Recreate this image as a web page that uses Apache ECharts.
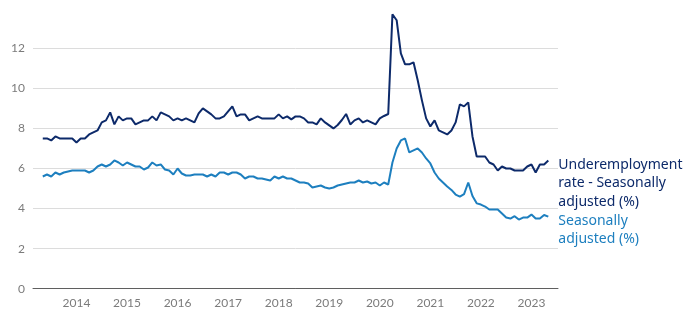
<!DOCTYPE html>
<html>
<head>
<meta charset="utf-8">
<script src="https://cdn.jsdelivr.net/npm/echarts@6/dist/echarts.min.js"></script>
<style>
html,body{margin:0;padding:0;background:#fff;}
#chart{width:700px;height:324px;}
</style>
</head>
<body>
<div id="chart"></div>
<script>
// Monthly series, May 2013 .. May 2023
const startYear = 2013;
const startMonth = 5; // May
const underemployment = [
  7.5,7.5,7.4,7.6,7.5,7.5,7.5,7.5,7.3,7.5,7.5,7.7,7.8,7.9,8.3,8.4,8.8,8.2,8.6,8.4,8.5,
  8.5,8.2,8.3,8.4,8.4,8.6,8.4,8.8,8.7,8.6,8.4,8.5,8.4,8.5,8.4,8.3,8.75,9.0,8.85,8.7,
  8.5,8.5,8.6,8.85,9.1,8.6,8.7,8.7,8.4,8.5,8.6,8.5,8.5,8.5,8.5,8.7,8.5,8.6,8.45,8.6,
  8.6,8.5,8.3,8.3,8.2,8.5,8.3,8.15,8.0,8.17,8.42,8.72,8.2,8.4,8.5,8.3,8.4,8.3,8.2,8.5,8.62,8.72,
  13.7,13.4,11.75,11.2,11.2,11.3,10.4,9.4,8.5,8.1,8.4,7.9,7.8,7.7,7.9,8.3,9.2,9.1,9.3,7.6,
  6.6,6.6,6.6,6.3,6.2,5.9,6.1,6.0,6.0,5.9,5.9,5.9,6.1,6.2,5.8,6.2,6.2,6.4
];
const unemployment = [
  5.6,5.7,5.6,5.8,5.7,5.8,5.85,5.9,5.9,5.9,5.9,5.8,5.9,6.1,6.2,6.1,6.2,6.4,6.3,6.15,6.3,
  6.2,6.1,6.1,5.95,6.05,6.3,6.15,6.2,5.95,5.9,5.7,6.0,5.75,5.65,5.65,5.7,5.7,5.7,5.6,5.7,
  5.6,5.8,5.8,5.7,5.8,5.8,5.7,5.5,5.6,5.6,5.5,5.5,5.45,5.4,5.6,5.5,5.6,5.5,5.5,5.4,
  5.3,5.3,5.25,5.05,5.1,5.15,5.05,5.0,5.05,5.15,5.2,5.25,5.3,5.3,5.4,5.3,5.35,5.25,5.3,5.15,5.3,5.2,
  6.3,7.0,7.4,7.5,6.8,6.9,7.0,6.8,6.5,6.25,5.8,5.5,5.3,5.1,4.93,4.7,4.6,4.72,5.3,4.63,
  4.26,4.2,4.1,3.95,3.95,3.95,3.75,3.55,3.5,3.62,3.45,3.55,3.55,3.7,3.5,3.5,3.68,3.6
];
const yearTicks = [2014,2015,2016,2017,2018,2019,2020,2021,2022,2023];
const yTicks = [0,2,4,6,8,10,12];
const underLabel = 'Underemployment\nrate - Seasonally\nadjusted (%)';
const unempLabel = 'Seasonally\nadjusted (%)';

// decimal-year x position for each month
const xYears = underemployment.map((_, i) => startYear + (startMonth - 1 + i) / 12);
const pairs = arr => arr.map((v, i) => [xYears[i], v]);

const NAVY = '#0d2a6a';
const BLUE = '#1d7fbf';

const chart = echarts.init(document.getElementById('chart'), null, {renderer: 'canvas'});
chart.setOption({
  animation: false,
  backgroundColor: '#ffffff',
  grid: {left: 33, right: 142, top: 8.2, bottom: 35.3, outerBoundsMode: 'none'},
  xAxis: {
    type: 'value',
    min: 2013.14,
    max: 2023.525,
    splitLine: {show: false},
    axisTick: {show: false},
    axisLine: {show: true, onZero: false, lineStyle: {color: '#5f5f5f', width: 1}},
    axisLabel: {
      customValues: yearTicks,
      formatter: v => String(Math.round(v)),
      color: '#7b7b7b',
      fontFamily: 'Lato',
      fontSize: 12,
      margin: 8
    }
  },
  yAxis: {
    type: 'value',
    min: 0,
    max: 14,
    interval: 2,
    axisLine: {show: false},
    axisTick: {show: false},
    splitLine: {show: true, lineStyle: {color: ['#5f5f5f','#dcdcdc','#dcdcdc','#dcdcdc','#dcdcdc','#dcdcdc','#dcdcdc','rgba(0,0,0,0)'], width: 1}},
    axisLabel: {
      customValues: yTicks,
      color: '#7b7b7b',
      fontFamily: 'Lato',
      fontSize: 12,
      margin: 8
    }
  },
  series: [
    {
      name: 'Underemployment rate - Seasonally adjusted (%)',
      type: 'line',
      data: pairs(underemployment),
      showSymbol: false,
      symbol: 'none',
      clip: false,
      lineStyle: {color: NAVY, width: 2},
      itemStyle: {color: NAVY},
      endLabel: {
        show: true,
        formatter: underLabel,
        color: NAVY,
        fontFamily: 'Noto Sans',
        fontSize: 14,
        lineHeight: 18.5,
        align: 'left',
        verticalAlign: 'top',
        distance: 10,
        offset: [0, -5]
      }
    },
    {
      name: 'Seasonally adjusted (%)',
      type: 'line',
      data: pairs(unemployment),
      showSymbol: false,
      symbol: 'none',
      clip: false,
      lineStyle: {color: BLUE, width: 2},
      itemStyle: {color: BLUE},
      endLabel: {
        show: true,
        formatter: unempLabel,
        color: BLUE,
        fontFamily: 'Noto Sans',
        fontSize: 14,
        lineHeight: 18.5,
        align: 'left',
        verticalAlign: 'top',
        distance: 10,
        offset: [0, -5]
      }
    }
  ]
});
</script>
</body>
</html>
